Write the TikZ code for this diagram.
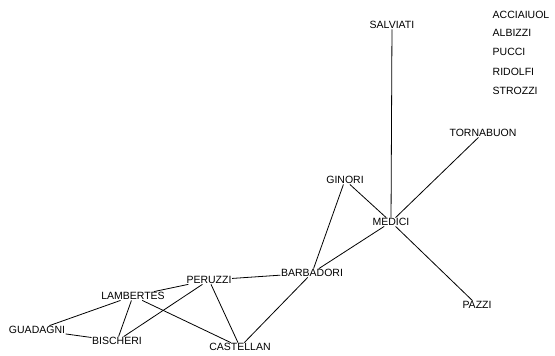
\documentclass[tikz,border=0pt]{standalone}
\usepackage{fontspec}
\setmainfont{Liberation Sans}
\begin{document}
\begin{tikzpicture}[x=1bp,y=-1bp,
  fam/.style={inner sep=0.5bp, font=\fontsize{10.5bp}{12bp}\selectfont},
  iso/.style={fam, anchor=west},
  tie/.style={line width=0.8bp, black}]
\useasboundingbox (0,0) rectangle (555,355);
\node[fam] (salviati) at (392,25) {SALVIATI};
\node[iso] (acciaiuol) at (492,15) {ACCIAIUOL};
\node[iso] (albizzi) at (492,33) {ALBIZZI};
\node[iso] (pucci) at (492,52) {PUCCI};
\node[iso] (ridolfi) at (492,72) {RIDOLFI};
\node[iso] (strozzi) at (492,91) {STROZZI};
\node[fam] (tornabuon) at (483,133) {TORNABUON};
\node[fam] (ginori) at (345,180) {GINORI};
\node[fam] (medici) at (391,222) {MEDICI};
\node[fam] (barbadori) at (312,273) {BARBADORI};
\node[fam] (peruzzi) at (209,280) {PERUZZI};
\node[fam] (lambertes) at (133,296) {LAMBERTES};
\node[fam] (guadagni) at (37,330) {GUADAGNI};
\node[fam] (bischeri) at (117,341) {BISCHERI};
\node[fam] (castellan) at (240,347) {CASTELLAN};
\node[fam] (pazzi) at (477,305) {PAZZI};
\draw[tie] (salviati) -- (medici);
\draw[tie] (tornabuon) -- (medici);
\draw[tie] (ginori) -- (medici);
\draw[tie] (pazzi) -- (medici);
\draw[tie] (barbadori) -- (medici);
\draw[tie] (barbadori) -- (ginori);
\draw[tie] (barbadori) -- (peruzzi);
\draw[tie] (barbadori) -- (castellan);
\draw[tie] (peruzzi) -- (lambertes);
\draw[tie] (peruzzi) -- (bischeri);
\draw[tie] (peruzzi) -- (castellan);
\draw[tie] (lambertes) -- (guadagni);
\draw[tie] (lambertes) -- (bischeri);
\draw[tie] (lambertes) -- (castellan);
\draw[tie] (guadagni) -- (bischeri);
\end{tikzpicture}
\end{document}
